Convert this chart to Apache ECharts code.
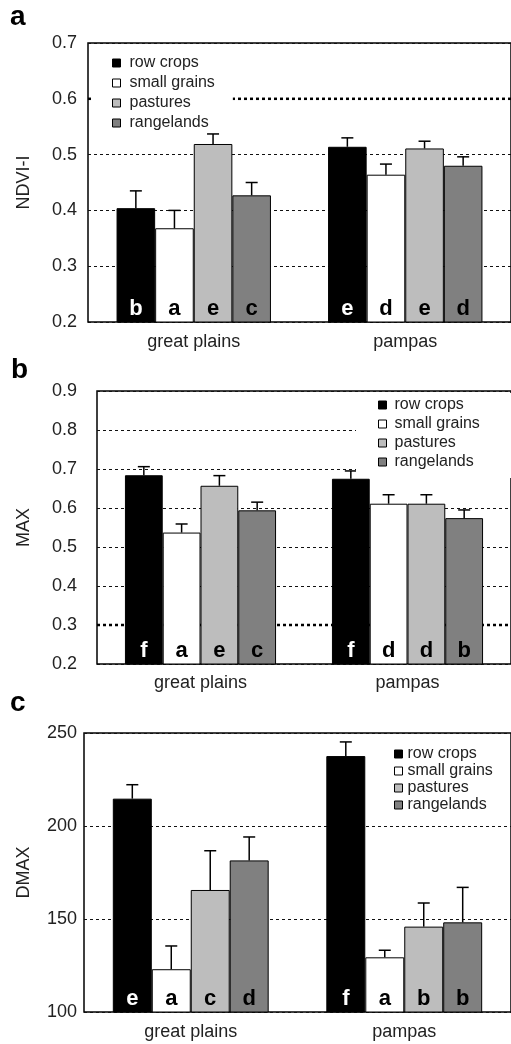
<!DOCTYPE html>
<html><head><meta charset="utf-8">
<script src="https://cdn.jsdelivr.net/npm/echarts@6/dist/echarts.min.js"></script>
<style>html,body{margin:0;padding:0;background:#fff}#c{width:511px;height:1044px}</style>
</head><body><div id="c"></div><script>
// ---- data ----
const categories = ['great plains', 'pampas'];
const seriesNames = ['row crops', 'small grains', 'pastures', 'rangelands'];
const seriesColors = ['#000000', '#ffffff', '#bdbdbd', '#808080'];
const letterColors = ['#ffffff', '#000000', '#000000', '#000000'];

// panel a: NDVI-I  (per series: [great plains, pampas])
const ndviMeans  = [[0.404, 0.514], [0.368, 0.464], [0.519, 0.511], [0.427, 0.480]];
const ndviErrTop = [[0.435, 0.530], [0.400, 0.483], [0.537, 0.524], [0.450, 0.496]];
const ndviLetters = [['b', 'e'], ['a', 'd'], ['e', 'e'], ['c', 'd']];
const ndviAxis = [0.2, 0.7, 0.1];
const ndviThickLines = [0.6];

// panel b: MAX
const maxMeans  = [[0.684, 0.675], [0.537, 0.611], [0.657, 0.611], [0.594, 0.574]];
const maxErrTop = [[0.706, 0.695], [0.559, 0.634], [0.683, 0.634], [0.615, 0.595]];
const maxLetters = [['f', 'f'], ['a', 'd'], ['e', 'd'], ['c', 'b']];
const maxAxis = [0.2, 0.9, 0.1];
const maxThickLines = [0.3];

// panel c: DMAX
const dmaxMeans  = [[214.7, 237.6], [123.0, 129.4], [165.6, 145.9], [181.5, 148.2]];
const dmaxErrTop = [[222.2, 245.2], [135.5, 133.2], [186.7, 158.6], [194.1, 167.0]];
const dmaxLetters = [['e', 'f'], ['a', 'a'], ['c', 'b'], ['d', 'b']];
const dmaxAxis = [100, 250, 50];
const dmaxThickLines = [];

// ---- layout ----
const FONT = '"Liberation Sans", Arial, Helvetica, sans-serif';
const CAT_GAP = 0.27;
const panels = [
  { name: 'NDVI-I', means: ndviMeans, err: ndviErrTop, letters: ndviLetters, axis: ndviAxis, thick: ndviThickLines,
    grid: { left: 88, top: 43, height: 279, right: -1 }, labelMargin: 11, catMargin: 11, nameGap: 55, decimals: 1,
    legend: { left: 92, top: 50, padding: [5, 18, 0, 20], itemGap: 4, bg: '#fff', textPad: 4 } },
  { name: 'MAX', means: maxMeans, err: maxErrTop, letters: maxLetters, axis: maxAxis, thick: maxThickLines,
    grid: { left: 97, top: 391, height: 273, right: -3 }, labelMargin: 20, catMargin: 10, nameGap: 64, decimals: 1,
    legend: { left: 356, top: 393, padding: [4, 60, 8, 22], itemGap: 3, bg: '#fff', textPad: 3 } },
  { name: 'DMAX', means: dmaxMeans, err: dmaxErrTop, letters: dmaxLetters, axis: dmaxAxis, thick: dmaxThickLines,
    grid: { left: 84, top: 733, height: 279, right: -7 }, labelMargin: 7, catMargin: 11, nameGap: 51, decimals: 0,
    legend: { left: 394, top: 746, padding: [0, 0, 0, 0], itemGap: 1, bg: 'transparent', textPad: 0 } }
];

const grids = [], xAxes = [], yAxes = [], series = [], legends = [];
panels.forEach((p, pi) => {
  grids.push(Object.assign({ show: true, borderColor: '#000', borderWidth: 1.5, backgroundColor: 'transparent' }, p.grid));
  xAxes.push({
    type: 'category', gridIndex: pi, data: categories,
    axisLine: { show: false }, axisTick: { show: false },
    axisLabel: { fontSize: 18, color: '#222', fontFamily: FONT, margin: p.catMargin }
  });
  yAxes.push({
    type: 'value', gridIndex: pi, min: p.axis[0], max: p.axis[1], interval: p.axis[2],
    name: p.name, nameLocation: 'middle', nameGap: p.nameGap,
    nameTextStyle: { fontSize: 18, color: '#222', fontFamily: FONT },
    axisLine: { show: false }, axisTick: { show: false },
    axisLabel: { fontSize: 18, color: '#222', fontFamily: FONT, margin: p.labelMargin,
      formatter: v => v.toFixed(p.decimals) },
    splitLine: { show: true, lineStyle: { color: '#111', width: 1, type: [3, 3] } }
  });
  legends.push({
    data: seriesNames, orient: 'vertical', left: p.legend.left, top: p.legend.top,
    padding: p.legend.padding, itemGap: p.legend.itemGap, backgroundColor: p.legend.bg,
    icon: 'rect', itemWidth: 8, itemHeight: 8, selectedMode: false,
    itemStyle: { borderColor: '#000', borderWidth: 1 },
    textStyle: { fontSize: 16, color: '#222', fontFamily: FONT, padding: [0, 0, 0, p.legend.textPad] }
  });
  // thick dotted gridlines (behind bars)
  if (p.thick.length) {
    series.push({
      type: 'custom', xAxisIndex: pi, yAxisIndex: pi, z: 1, silent: true,
      data: p.thick.map(v => [0, v]), encode: { x: 0, y: 1 },
      renderItem: (params, api) => {
        const y = api.coord([0, api.value(1)])[1];
        const cs = params.coordSys;
        return { type: 'line', shape: { x1: cs.x, y1: y, x2: cs.x + cs.width, y2: y },
          style: { stroke: '#000', lineWidth: 2.5, lineDash: [3, 3] } };
      }
    });
  }
  // bars
  seriesNames.forEach((nm, si) => {
    series.push({
      type: 'bar', name: nm, xAxisIndex: pi, yAxisIndex: pi, z: 2,
      data: p.means[si], barGap: '0%', barCategoryGap: (CAT_GAP * 100) + '%',
      itemStyle: { color: seriesColors[si], borderColor: '#000', borderWidth: 1 },
      emphasis: { disabled: true },
      label: { show: true, position: 'insideBottom', distance: 3,
        formatter: prm => p.letters[si][prm.dataIndex],
        color: letterColors[si], fontSize: 22, fontWeight: 'bold', fontFamily: FONT }
    });
  });
  // error bars (upper only)
  const errData = [];
  seriesNames.forEach((nm, si) => {
    categories.forEach((c, ci) => errData.push([ci, p.means[si][ci], p.err[si][ci], si]));
  });
  series.push({
    type: 'custom', xAxisIndex: pi, yAxisIndex: pi, z: 3, silent: true,
    data: errData, encode: { x: 0, y: 2 },
    renderItem: (params, api) => {
      const ci = api.value(0), mean = api.value(1), top = api.value(2), si = api.value(3);
      const band = api.size([1, 0])[0];
      const total = band * (1 - CAT_GAP);
      const bw = total / seriesNames.length;
      const cx = api.coord([ci, mean])[0];
      const x = cx - total / 2 + bw * (si + 0.5);
      const y0 = api.coord([ci, mean])[1];
      const y1 = api.coord([ci, top])[1];
      const st = { stroke: '#000', lineWidth: 1.5 };
      return { type: 'group', children: [
        { type: 'line', shape: { x1: x, y1: y0, x2: x, y2: y1 }, style: st },
        { type: 'line', shape: { x1: x - 6, y1: y1, x2: x + 6, y2: y1 }, style: st }
      ] };
    }
  });
});

const chart = echarts.init(document.getElementById('c'), null, { renderer: 'canvas' });
chart.setOption({
  animation: false,
  backgroundColor: '#fff',
  textStyle: { fontFamily: FONT },
  grid: grids, xAxis: xAxes, yAxis: yAxes, legend: legends, series: series,
  graphic: [
    { type: 'text', left: 10, top: 3, style: { text: 'a', fontSize: 28, fontWeight: 'bold', fill: '#000', fontFamily: FONT } },
    { type: 'text', left: 11, top: 356, style: { text: 'b', fontSize: 28, fontWeight: 'bold', fill: '#000', fontFamily: FONT } },
    { type: 'text', left: 10, top: 689, style: { text: 'c', fontSize: 28, fontWeight: 'bold', fill: '#000', fontFamily: FONT } }
  ]
});
</script></body></html>
